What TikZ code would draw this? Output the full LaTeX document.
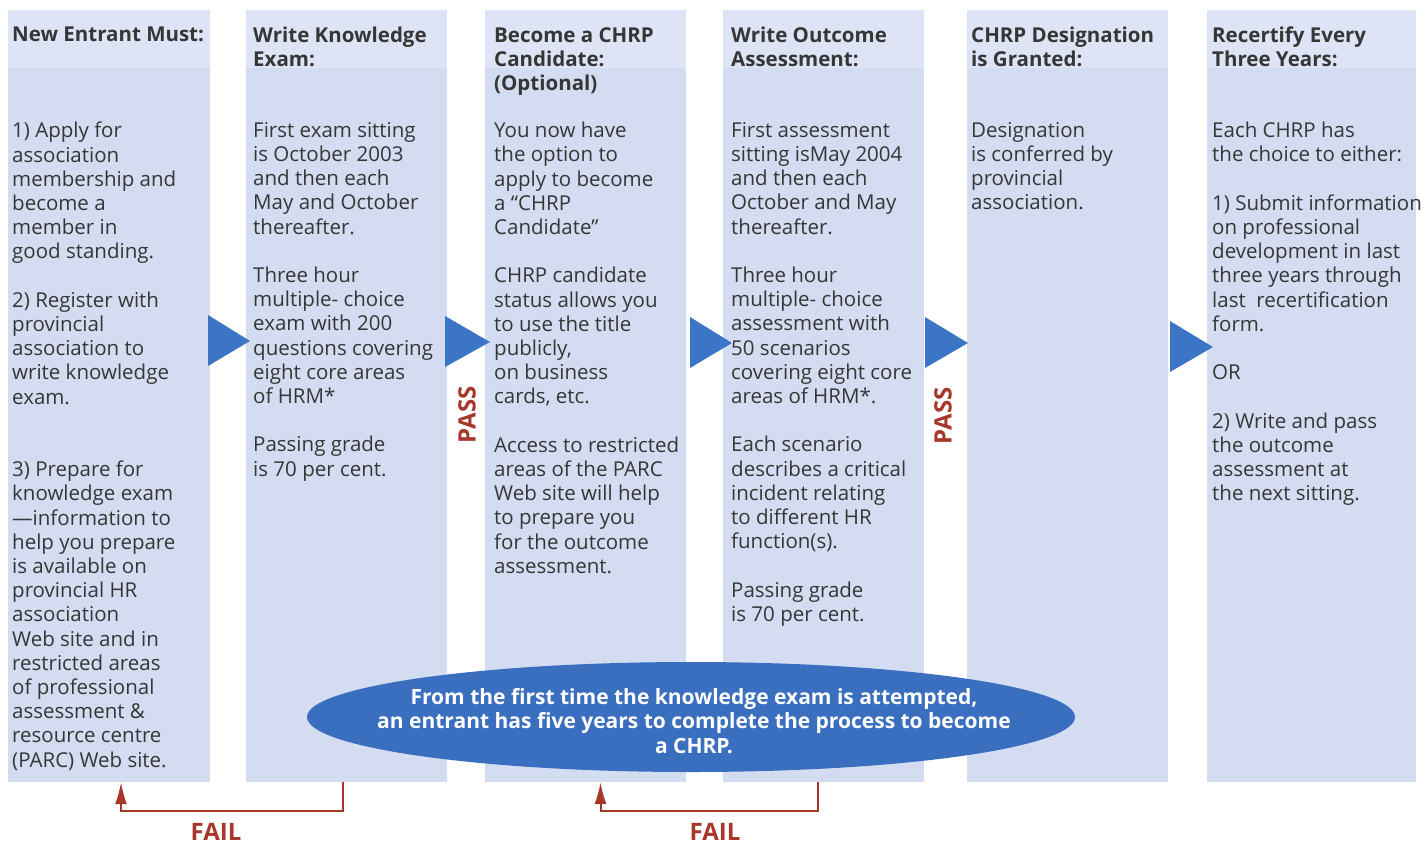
\documentclass[tikz,border=0pt]{standalone}
\usepackage{fontspec}
\setmainfont{Open Sans}
\usetikzlibrary{shapes.geometric,arrows.meta}

\definecolor{panelblue}{HTML}{D4DCF1}
\definecolor{headblue}{HTML}{DEE4F5}
\definecolor{triblue}{HTML}{3C74C6}
\definecolor{ovalblue}{HTML}{3A6EBF}
\definecolor{failred}{HTML}{A8372B}
\definecolor{txtgray}{HTML}{363636}

\begin{document}
\begin{tikzpicture}[x=1pt,y=-1pt,
    panel/.style={fill=panelblue,minimum height=772pt,inner sep=0pt},
    head/.style={anchor=north west,align=left,inner sep=0pt,text=txtgray,
        font=\fontsize{20.5}{24}\selectfont\bfseries},
    body/.style={anchor=north west,align=left,inner sep=0pt,text=txtgray,
        font=\fontsize{20.5}{24.2}\selectfont},
    tri/.style={fill=triblue},
    failline/.style={draw=failred,line width=2pt,-{Latex[length=22pt,width=12pt]}},
    bigred/.style={text=failred,inner sep=0pt,font=\fontsize{24}{24}\selectfont\bfseries}]

    \useasboundingbox (0,0) rectangle (1423,844);

    % Panels
    \node[panel,minimum width=202pt] (entrant) at (109,396) {};
    \node[panel,minimum width=201pt] (knowexam) at (346.5,396) {};
    \node[panel,minimum width=201pt] (candidate) at (585.5,396) {};
    \node[panel,minimum width=201pt] (outcome) at (823.5,396) {};
    \node[panel,minimum width=201pt] (granted) at (1067.5,396) {};
    \node[panel,minimum width=209pt] (recert) at (1311.5,396) {};

    % Lighter header strips
    \fill[headblue] (entrant.north west) rectangle ([yshift=-58pt]entrant.north east);
    \fill[headblue] (knowexam.north west) rectangle ([yshift=-58pt]knowexam.north east);
    \fill[headblue] (candidate.north west) rectangle ([yshift=-58pt]candidate.north east);
    \fill[headblue] (outcome.north west) rectangle ([yshift=-58pt]outcome.north east);
    \fill[headblue] (granted.north west) rectangle ([yshift=-58pt]granted.north east);
    \fill[headblue] (recert.north west) rectangle ([yshift=-58pt]recert.north east);

    % Headings
    \node[head] (entrant-head) at (12,27) {New Entrant Must:};
    \node[head] (knowexam-head) at (253,27) {Write Knowledge\\Exam:};
    \node[head] (candidate-head) at (494,27) {Become a CHRP\\Candidate:\\(Optional)};
    \node[head] (outcome-head) at (731,27) {Write Outcome\\Assessment:};
    \node[head] (granted-head) at (971,27) {CHRP Designation\\is Granted:};
    \node[head] (recert-head) at (1212,27) {Recertify Every\\Three Years:};

    % Texts
    \node[body] (entrant-txt) at (12,122) {1) Apply for\\association\\membership and\\become a\\member in\\good standing.\\[24.2pt]
        2) Register with\\provincial\\association to\\write knowledge\\exam.\\[48.4pt]
        3) Prepare for\\knowledge exam\\---information to\\help you prepare\\is available on\\provincial HR\\association\\Web site and in\\restricted areas\\of professional\\assessment \&\\resource centre\\(PARC) Web site.};
    \node[body] (knowexam-txt) at (253,122) {First exam sitting\\is October 2003\\and then each\\May and October\\thereafter.\\[24.2pt]
        Three hour\\multiple- choice\\exam with 200\\questions covering\\eight core areas\\of HRM*\\[24.2pt]
        Passing grade\\is 70 per cent.};
    \node[body] (candidate-txt) at (494,122) {You now have\\the option to\\apply to become\\a “CHRP\\Candidate”\\[24.2pt]
        CHRP candidate\\status allows you\\to use the title\\publicly,\\on business\\cards, etc.\\[24.2pt]
        Access to restricted\\areas of the PARC\\Web site will help\\to prepare you\\for the outcome\\assessment.};
    \node[body] (outcome-txt) at (731,122) {First assessment\\sitting isMay 2004\\and then each\\October and May\\thereafter.\\[24.2pt]
        Three hour\\multiple- choice\\assessment with\\50 scenarios\\covering eight core\\areas of HRM*.\\[24.2pt]
        Each scenario\\describes a critical\\incident relating\\to different HR\\function(s).\\[24.2pt]
        Passing grade\\is 70 per cent.};
    \node[body] (granted-txt) at (971,122) {Designation\\is conferred by\\provincial\\association.};
    \node[body] (recert-txt) at (1212,122) {Each CHRP has\\the choice to either:\\[24.2pt]
        1) Submit information\\on professional\\development in last\\three years through\\last~ recertification\\form.\\[24.2pt]
        OR\\[24.2pt]
        2) Write and pass\\the outcome\\assessment at\\the next sitting.};

    % Arrows between panels
    \fill[tri] (208,315) -- (250,341) -- (208,366) -- cycle;
    \fill[tri] (445,316) -- (490,342) -- (445,367) -- cycle;
    \fill[tri] (690,317) -- (732,343) -- (690,368) -- cycle;
    \fill[tri] (925,317) -- (968,343) -- (925,368) -- cycle;
    \fill[tri] (1170,321) -- (1213,347) -- (1170,372) -- cycle;

    % Pass labels
    \node[bigred,rotate=90] (pass1) at (467,415) {PASS};
    \node[bigred,rotate=90] (pass2) at (943,416) {PASS};

    % Time limit
    \node[ellipse,fill=ovalblue,minimum width=768pt,minimum height=110pt,inner sep=0pt] (limit) at (691,717) {};
    \node[align=center,text=white,font=\fontsize{21}{24.5}\selectfont\bfseries] (limit-txt) at (694,721)
        {From the first time the knowledge exam is attempted,\\an entrant has five years to complete the process to become\\a CHRP.};

    % Fail loops
    \coordinate (back1) at ([xshift=12pt]entrant.south);
    \coordinate (back2) at ([xshift=15pt]candidate.south);
    \draw[failline] ([xshift=-4pt]knowexam.south) -- ++(0,29) -| (back1);
    \draw[failline] ([xshift=-6pt]outcome.south) -- ++(0,29) -| (back2);
    \node[bigred,anchor=base] (fail1) at (216,840) {FAIL};
    \node[bigred,anchor=base] (fail2) at (715,840) {FAIL};

\end{tikzpicture}
\end{document}
